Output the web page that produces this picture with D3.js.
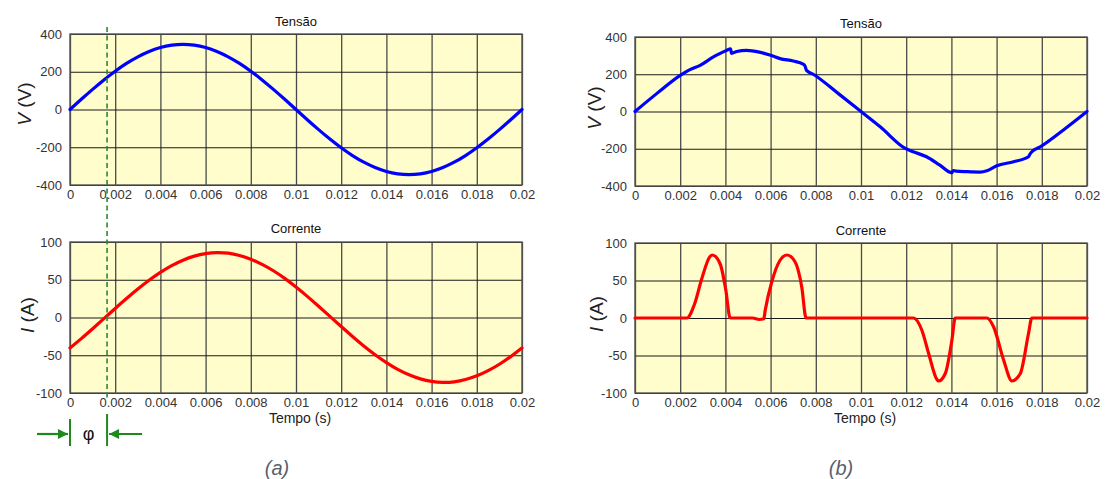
<!DOCTYPE html>
<html>
<head>
<meta charset="utf-8">
<script src="https://cdn.jsdelivr.net/npm/d3@7"></script>
<style>
  html, body { margin: 0; padding: 0; background: #ffffff; }
  svg { display: block; }
  text { font-family: "Liberation Sans", Arial, sans-serif; }
</style>
</head>
<body>
<svg id="chart" width="1105" height="479"></svg>
<script>
// ---- data -------------------------------------------------------------
// time axis (s)
const xTicks = [0, 0.002, 0.004, 0.006, 0.008, 0.01, 0.012, 0.014, 0.016, 0.018, 0.02];
const xTickLabels = ["0", "0.002", "0.004", "0.006", "0.008", "0.01", "0.012", "0.014", "0.016", "0.018", "0.02"];
const vTicks = [-400, -200, 0, 200, 400];
const vTickLabels = ["-400", "-200", "0", "200", "400"];
const iTicks = [-100, -50, 0, 50, 100];
const iTickLabels = ["-100", "-50", "0", "50", "100"];

// (a) linear load: sampled every 0.5 ms
const aTime = [0, 0.0005, 0.001, 0.0015, 0.002, 0.0025, 0.003, 0.0035, 0.004, 0.0045,
  0.005, 0.0055, 0.006, 0.0065, 0.007, 0.0075, 0.008, 0.0085, 0.009, 0.0095,
  0.01, 0.0105, 0.011, 0.0115, 0.012, 0.0125, 0.013, 0.0135, 0.014, 0.0145,
  0.015, 0.0155, 0.016, 0.0165, 0.017, 0.0175, 0.018, 0.0185, 0.019, 0.0195, 0.02];
const aVoltage = [0, 54, 106.6, 156.6, 202.8, 244, 279.1, 307.4, 328.1, 340.7,
  345, 340.7, 328.1, 307.4, 279.1, 244, 202.8, 156.6, 106.6, 54,
  0, -54, -106.6, -156.6, -202.8, -244, -279.1, -307.4, -328.1, -340.7,
  -345, -340.7, -328.1, -307.4, -279.1, -244, -202.8, -156.6, -106.6, -54, 0];
const aCurrent = [-40.4, -28.0, -14.9, -1.5, 12.0, 25.1, 37.7, 49.3, 59.7, 68.7,
  75.9, 81.3, 84.7, 86.0, 85.2, 82.2, 77.3, 70.4, 61.9, 51.8,
  40.4, 28.0, 14.9, 1.5, -12.0, -25.1, -37.7, -49.3, -59.7, -68.7,
  -75.9, -81.3, -84.7, -86.0, -85.2, -82.2, -77.3, -70.4, -61.9, -51.8, -40.4];

// phase shift marker (s)
const phiTime = 0.00164;

// (b) non-linear load
const bVoltTime = [0, 0.001, 0.002, 0.00243, 0.00288, 0.00347, 0.00406, 0.00423, 0.00427, 0.0045,
  0.00493, 0.0055, 0.006, 0.00642, 0.007, 0.00744, 0.00752, 0.00759, 0.00789, 0.009,
  0.01, 0.01085, 0.01196, 0.01231, 0.0129, 0.01349, 0.01402, 0.01408, 0.0142, 0.01468,
  0.01527, 0.01557, 0.01601, 0.01675, 0.01741, 0.01746, 0.01756, 0.01793, 0.019, 0.02];
const bVoltage = [0, 100, 194, 225, 248, 293, 328, 337, 312, 322,
  328, 319, 302, 284, 271, 255, 245, 221, 200, 96,
  0, -82, -198, -216, -243, -288, -329, -317, -320, -323,
  -325, -318, -291, -270, -243, -232, -216, -190, -95, 0];

const bCurrTime = [0, 0.00229, 0.00264, 0.00295, 0.00332, 0.00342, 0.00377, 0.00402, 0.00421, 0.0052,
  0.0055, 0.0057, 0.00576, 0.00605, 0.00642, 0.00672, 0.00708, 0.00738, 0.00757, 0.01232,
  0.01269, 0.01299, 0.01336, 0.01343, 0.01373, 0.01402, 0.01417, 0.01557, 0.01587, 0.01631,
  0.01668, 0.01705, 0.01741, 0.01756, 0.02];
const bCurrent = [0, 0, 19, 52, 82, 84, 72, 37, 0, 0,
  -2, -1, 10, 48, 77, 84, 75, 41, 0, 0,
  -16, -47, -82, -84, -74, -30, 0, 0, -12, -56,
  -84, -74, -21, 0, 0];

// ---- drawing ----------------------------------------------------------
const svg = d3.select("#chart");
const BG = "#fefdcb";

const panels = [
  { left: 70,  right: 522,  top: 34,  bottom: 185, domain: [-400, 400], yTicks: vTicks, yLabels: vTickLabels,
    title: "Tensão", titleY: 21, axisSym: "V", axisUnit: " (V)", axisX: 24, axisY: 104,
    t: aTime, v: aVoltage, color: "#0000ff", xlabel: false },
  { left: 70,  right: 522,  top: 242, bottom: 393, domain: [-100, 100], yTicks: iTicks, yLabels: iTickLabels,
    title: "Corrente", titleY: 228, axisSym: "I", axisUnit: " (A)", axisX: 27, axisY: 315,
    t: aTime, v: aCurrent, color: "#ff0000", xlabel: true },
  { left: 635, right: 1087, top: 37,  bottom: 186, domain: [-400, 400], yTicks: vTicks, yLabels: vTickLabels,
    title: "Tensão", titleY: 23, axisSym: "V", axisUnit: " (V)", axisX: 594, axisY: 108,
    t: bVoltTime, v: bVoltage, color: "#0000ff", xlabel: false },
  { left: 635, right: 1087, top: 243, bottom: 393, domain: [-100, 100], yTicks: iTicks, yLabels: iTickLabels,
    title: "Corrente", titleY: 230, axisSym: "I", axisUnit: " (A)", axisX: 596, axisY: 314,
    t: bCurrTime, v: bCurrent, color: "#ff0000", xlabel: true }
];

const scalesA = [];

panels.forEach((p, idx) => {
  const w = p.right - p.left, h = p.bottom - p.top;
  const x = d3.scaleLinear().domain([0, 0.02]).range([p.left, p.right]);
  const y = d3.scaleLinear().domain(p.domain).range([p.bottom, p.top]);
  scalesA.push({ x, y });

  const g = svg.append("g");

  g.append("rect")
    .attr("x", p.left).attr("y", p.top).attr("width", w).attr("height", h)
    .attr("fill", BG);

  // vertical grid + time tick labels
  const xAxis = d3.axisBottom(x)
    .tickValues(xTicks)
    .tickFormat((d, i) => xTickLabels[i])
    .tickSize(-h)
    .tickPadding(5);
  const gx = g.append("g").attr("transform", `translate(0,${p.bottom})`).call(xAxis);
  gx.select(".domain").remove();
  gx.selectAll(".tick line").attr("stroke", "#4a4a4a").attr("stroke-width", 1.3);
  gx.selectAll(".tick text")
    .attr("fill", "#333").attr("font-size", 13)
    .attr("font-family", "Liberation Sans, Arial, sans-serif");

  // horizontal grid + value tick labels
  const yAxis = d3.axisLeft(y)
    .tickValues(p.yTicks)
    .tickFormat((d, i) => p.yLabels[i])
    .tickSize(-w)
    .tickPadding(8);
  const gy = g.append("g").attr("transform", `translate(${p.left},0)`).call(yAxis);
  gy.select(".domain").remove();
  gy.selectAll(".tick line").attr("stroke", "#1a1a1a").attr("stroke-width", 1.1);
  gy.selectAll(".tick text")
    .attr("fill", "#333").attr("font-size", 13)
    .attr("font-family", "Liberation Sans, Arial, sans-serif");

  // frame
  g.append("rect")
    .attr("x", p.left).attr("y", p.top).attr("width", w).attr("height", h)
    .attr("fill", "none").attr("stroke", "#555").attr("stroke-width", 1.4);

  // title
  g.append("text")
    .attr("x", (p.left + p.right) / 2).attr("y", p.titleY)
    .attr("dy", "0.35em").attr("text-anchor", "middle")
    .attr("font-size", 13).attr("fill", "#111")
    .text(p.title);

  // y axis label
  const yl = g.append("text")
    .attr("transform", `translate(${p.axisX},${p.axisY}) rotate(-90)`)
    .attr("dy", "0.35em").attr("text-anchor", "middle")
    .attr("font-size", 19).attr("fill", "#222");
  yl.append("tspan").attr("font-style", "italic").text(p.axisSym);
  yl.append("tspan").text(p.axisUnit);

  // time label
  if (p.xlabel) {
    g.append("text")
      .attr("x", (p.left + p.right) / 2 + 4).attr("y", p.bottom + 25)
      .attr("dy", "0.35em").attr("text-anchor", "middle")
      .attr("font-size", 14).attr("fill", "#222")
      .text("Tempo (s)");
  }

  // signal
  const line = d3.line()
    .x((d, i) => x(p.t[i]))
    .y(d => y(d))
    .curve(idx < 2 ? d3.curveNatural : d3.curveMonotoneX);
  g.append("path")
    .datum(p.v)
    .attr("d", line)
    .attr("fill", "none")
    .attr("stroke", p.color)
    .attr("stroke-width", 3.2)
    .attr("stroke-linejoin", "round")
    .attr("stroke-linecap", "round");
});

// ---- phase shift marker on (a) ----------------------------------------
const GREEN = "#1e8a1e";
const xa = scalesA[0].x;
const xPhi = xa(phiTime);
const x0 = xa(0);

svg.append("line")
  .attr("x1", xPhi).attr("x2", xPhi).attr("y1", 27).attr("y2", 398)
  .attr("stroke", "#2a8a2a").attr("stroke-width", 1.6)
  .attr("stroke-dasharray", "5,3.5");

svg.append("defs").append("marker")
  .attr("id", "arrowHead")
  .attr("viewBox", "0 0 10 10")
  .attr("refX", 10).attr("refY", 5)
  .attr("markerWidth", 13).attr("markerHeight", 10)
  .attr("markerUnits", "userSpaceOnUse")
  .attr("orient", "auto")
  .append("path").attr("d", "M0,0 L10,5 L0,10 z").attr("fill", GREEN);

const phiY = 434;
svg.append("line")
  .attr("x1", x0).attr("x2", x0).attr("y1", 419).attr("y2", 446)
  .attr("stroke", GREEN).attr("stroke-width", 2);
svg.append("line")
  .attr("x1", xPhi).attr("x2", xPhi).attr("y1", 414).attr("y2", 446)
  .attr("stroke", GREEN).attr("stroke-width", 2);
svg.append("line")
  .attr("x1", x0 - 33).attr("x2", x0 - 2).attr("y1", phiY).attr("y2", phiY)
  .attr("stroke", GREEN).attr("stroke-width", 2.2)
  .attr("marker-end", "url(#arrowHead)");
svg.append("line")
  .attr("x1", xPhi + 35).attr("x2", xPhi + 2).attr("y1", phiY).attr("y2", phiY)
  .attr("stroke", GREEN).attr("stroke-width", 2.2)
  .attr("marker-end", "url(#arrowHead)");
svg.append("text")
  .attr("x", (x0 + xPhi) / 2).attr("y", phiY)
  .attr("dy", "0.35em").attr("text-anchor", "middle")
  .attr("font-size", 18).attr("fill", "#111")
  .attr("font-family", "DejaVu Sans, sans-serif")
  .text("φ");

// ---- sub-figure captions ----------------------------------------------
[["(a)", 277], ["(b)", 841]].forEach(([txt, cx]) => {
  svg.append("text")
    .attr("x", cx).attr("y", 468)
    .attr("dy", "0.35em").attr("text-anchor", "middle")
    .attr("font-size", 20).attr("font-style", "italic")
    .attr("font-family", "DejaVu Sans Condensed, DejaVu Sans, sans-serif")
    .attr("font-stretch", "condensed")
    .attr("fill", "#5a5f6a")
    .text(txt);
});
</script>
</body>
</html>
